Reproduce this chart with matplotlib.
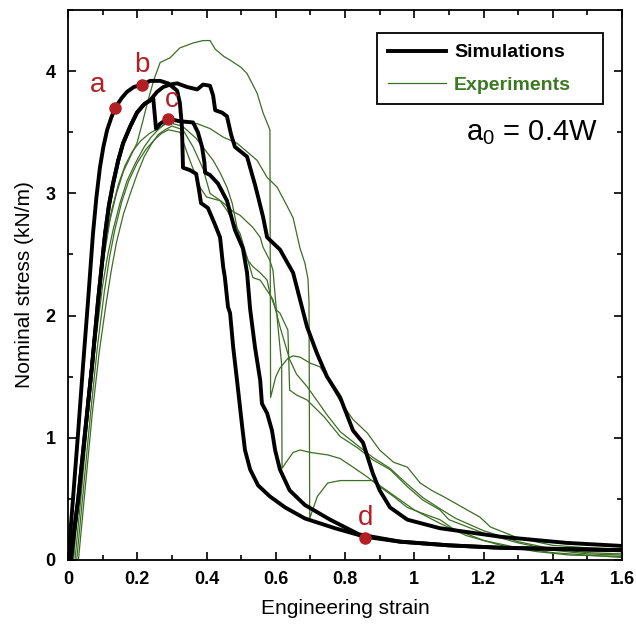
import numpy as np
import matplotlib
matplotlib.use("Agg")
import matplotlib.pyplot as plt
from matplotlib.lines import Line2D
from matplotlib.ticker import MultipleLocator, FormatStrFormatter

plt.rcParams['font.family'] = ['Liberation Sans', 'DejaVu Sans']
plt.rcParams['mathtext.default'] = 'regular'

# simulations (black)
sim1_x = [0, 0.006, 0.014, 0.029, 0.043, 0.058, 0.072, 0.082, 0.092, 0.102, 0.113, 0.125, 0.136,
          0.155, 0.17, 0.19, 0.214, 0.237, 0.266,
          0.289, 0.315, 0.323, 0.329, 0.332, 0.352, 0.37, 0.378, 0.384, 0.404, 0.425, 0.439, 0.448,
          0.453, 0.462, 0.468, 0.477, 0.488, 0.503, 0.511, 0.526, 0.549, 0.583, 0.627, 0.684, 0.771,
          0.858, 0.959, 1.10, 1.25, 1.42, 1.6]
sim1_y = [0, 0.2, 0.49, 1.04, 1.58, 2.13, 2.67, 2.97, 3.21, 3.38, 3.52, 3.62, 3.70,
          3.78, 3.83, 3.87, 3.89, 3.92, 3.92,
          3.90, 3.84, 3.74, 3.54, 3.21, 3.19, 3.16, 3.03, 2.92, 2.88, 2.74, 2.64, 2.40,
          2.31, 2.07, 2.02, 1.74, 1.47, 1.09, 0.90, 0.74, 0.61, 0.52, 0.43, 0.34, 0.26,
          0.19, 0.15, 0.12, 0.10, 0.09, 0.08]

sim2_x = [0.008, 0.018, 0.029, 0.049, 0.069, 0.087, 0.107, 0.118, 0.13, 0.145, 0.159, 0.18, 0.199,
          0.22, 0.237, 0.246, 0.254, 0.266,
          0.289, 0.323, 0.361, 0.375, 0.387, 0.394, 0.396, 0.41, 0.433, 0.459, 0.482, 0.505, 0.517,
          0.526, 0.54, 0.555, 0.56, 0.575, 0.589, 0.598, 0.612, 0.64, 0.684, 0.757, 0.84, 0.959,
          1.1, 1.25, 1.42, 1.6]
sim2_y = [0, 0.25, 0.49, 1.04, 1.58, 2.13, 2.67, 2.9, 3.08, 3.27, 3.41, 3.55, 3.66,
          3.73, 3.76, 3.78, 3.53, 3.57,
          3.61, 3.59, 3.58, 3.50, 3.38, 3.25, 3.17, 3.15, 3.08, 2.94, 2.70, 2.55, 2.35,
          2.05, 1.74, 1.47, 1.28, 1.20, 1.06, 0.90, 0.74, 0.57, 0.45, 0.33, 0.21, 0.15,
          0.12, 0.10, 0.09, 0.08]

sim3_x = [0.008, 0.018, 0.029, 0.049, 0.069, 0.087, 0.107, 0.118, 0.13, 0.145, 0.159, 0.18, 0.199,
          0.22, 0.237, 0.257, 0.275, 0.295, 0.315,
          0.344, 0.373, 0.39, 0.41, 0.419, 0.425, 0.445, 0.459, 0.471, 0.482, 0.517, 0.54, 0.549,
          0.563, 0.575, 0.612, 0.65, 0.67, 0.69, 0.719, 0.748, 0.786, 0.823, 0.852, 0.88, 0.90,
          0.93, 0.98, 1.074, 1.25, 1.44, 1.6]
sim3_y = [0, 0.25, 0.49, 1.04, 1.58, 2.13, 2.67, 2.9, 3.08, 3.27, 3.41, 3.55, 3.66,
          3.73, 3.76, 3.83, 3.87, 3.89, 3.90,
          3.87, 3.85, 3.89, 3.88, 3.80, 3.68, 3.66, 3.63, 3.48, 3.38, 3.30, 3.07, 2.97,
          2.81, 2.64, 2.54, 2.35, 2.13, 1.91, 1.69, 1.50, 1.33, 1.06, 0.96, 0.71, 0.57,
          0.43, 0.33, 0.26, 0.19, 0.14, 0.115]

# experiments (green)
exp1_x = [0.015, 0.025, 0.04, 0.055, 0.07, 0.09, 0.105, 0.121, 0.14, 0.16, 0.18, 0.199, 0.215, 0.23,
          0.248, 0.266, 0.295, 0.323, 0.361, 0.39, 0.41,
          0.425, 0.45, 0.468, 0.5, 0.517, 0.546, 0.563, 0.583, 0.585, 0.6, 0.612, 0.635, 0.65, 0.67,
          0.70, 0.728, 0.75, 0.786, 0.823, 0.864, 0.90, 0.94, 0.98, 1.017, 1.05, 1.09, 1.14, 1.19,
          1.22, 1.3, 1.4, 1.5, 1.6]
exp1_y = [0, 0.35, 0.8, 1.3, 1.7, 2.2, 2.5, 2.78, 3.0, 3.18, 3.3, 3.41, 3.58, 3.75,
          3.93, 4.07, 4.11, 4.19, 4.23, 4.25, 4.25,
          4.18, 4.12, 4.09, 4.03, 3.98, 3.82, 3.66, 3.52, 1.33, 1.5, 1.57, 1.65, 1.67, 1.66,
          1.61, 1.58, 1.48, 1.30, 1.15, 1.04, 0.90, 0.80, 0.76, 0.63, 0.57, 0.51, 0.43, 0.35,
          0.27, 0.18, 0.12, 0.10, 0.09]

exp2_x = [0.02, 0.03, 0.04, 0.06, 0.08, 0.10, 0.115, 0.13, 0.15, 0.17, 0.195, 0.22, 0.24, 0.26, 0.28,
          0.30, 0.33, 0.373, 0.41, 0.448,
          0.488, 0.517, 0.546, 0.575, 0.604, 0.632, 0.65, 0.67, 0.684, 0.693, 0.696, 0.698, 0.72,
          0.75, 0.786, 0.835, 0.88, 0.92, 0.96, 1.0, 1.04, 1.074, 1.15, 1.25, 1.35, 1.45, 1.6]
exp2_y = [0, 0.3, 0.6, 1.25, 1.8, 2.25, 2.5, 2.7, 2.92, 3.1, 3.25, 3.38, 3.46, 3.52, 3.57,
          3.6, 3.58, 3.57, 3.53, 3.46,
          3.41, 3.34, 3.27, 3.13, 3.05, 2.9, 2.8, 2.55, 2.43, 2.3, 2.1, 0.34, 0.52,
          0.63, 0.65, 0.65, 0.65, 0.57, 0.49, 0.41, 0.35, 0.30, 0.20, 0.12, 0.07, 0.04, 0.03]

exp3_x = [0.015, 0.025, 0.035, 0.055, 0.075, 0.095, 0.11, 0.125, 0.145, 0.165, 0.185, 0.21, 0.235,
          0.26, 0.29, 0.33, 0.37, 0.419, 0.439,
          0.459, 0.474, 0.488, 0.505, 0.52, 0.534, 0.555, 0.575, 0.583, 0.6, 0.612, 0.635, 0.64,
          0.66, 0.69, 0.74, 0.786, 0.835, 0.88, 0.93, 0.98, 1.025, 1.074, 1.10, 1.2, 1.3, 1.4,
          1.5, 1.6]
exp3_y = [0, 0.3, 0.6, 1.25, 1.85, 2.35, 2.62, 2.85, 3.07, 3.23, 3.34, 3.43, 3.49,
          3.53, 3.58, 3.55, 3.45, 3.27, 3.17,
          3.05, 2.92, 2.72, 2.56, 2.45, 2.40, 2.35, 2.29, 2.18, 2.05, 2.02, 1.88, 1.39,
          1.35, 1.31, 1.17, 1.01, 0.92, 0.82, 0.74, 0.60, 0.49, 0.41, 0.33, 0.22, 0.14, 0.08,
          0.05, 0.04]

exp4_x = [0.03, 0.04, 0.05, 0.07, 0.09, 0.11, 0.125, 0.14, 0.16, 0.18, 0.2, 0.22, 0.24, 0.26, 0.28,
          0.30, 0.332, 0.361, 0.39, 0.41,
          0.445, 0.477, 0.497, 0.534, 0.555, 0.563, 0.583, 0.592, 0.6, 0.61, 0.617, 0.618, 0.63,
          0.65, 0.67, 0.70, 0.75, 0.786, 0.823, 0.864, 0.90, 0.94, 0.98, 1.025, 1.074, 1.11,
          1.2, 1.3, 1.4, 1.5, 1.6]
exp4_y = [0, 0.3, 0.6, 1.2, 1.7, 2.1, 2.37, 2.6, 2.83, 3.0, 3.16, 3.3, 3.4, 3.48, 3.52,
          3.55, 3.52, 3.38, 3.2, 3.0,
          2.93, 2.85, 2.82, 2.72, 2.64, 2.56, 2.45, 2.37, 2.1, 1.8, 1.6, 0.75, 0.8,
          0.88, 0.9, 0.88, 0.86, 0.83, 0.76, 0.68, 0.60, 0.52, 0.43, 0.38, 0.33, 0.26,
          0.16, 0.10, 0.06, 0.04, 0.02]

exp5_x = [0.025, 0.035, 0.045, 0.065, 0.085, 0.105, 0.12, 0.135, 0.155, 0.175, 0.2, 0.225, 0.25,
          0.27, 0.29, 0.323, 0.344, 0.381,
          0.40, 0.439, 0.459, 0.497, 0.534, 0.555, 0.592, 0.612, 0.64, 0.66, 0.69, 0.72, 0.75,
          0.786, 0.835, 0.88, 0.93, 0.98, 1.025, 1.074, 1.12, 1.2, 1.3, 1.4, 1.5, 1.6]
exp5_y = [0, 0.3, 0.6, 1.2, 1.75, 2.2, 2.48, 2.7, 2.93, 3.1, 3.25, 3.36, 3.44,
          3.49, 3.52, 3.5, 3.33, 3.05,
          2.97, 2.94, 2.86, 2.67, 2.31, 2.29, 2.13, 1.91, 1.64, 1.52, 1.42, 1.3, 1.18,
          1.05, 0.94, 0.84, 0.75, 0.62, 0.51, 0.42, 0.34, 0.24, 0.15, 0.09, 0.06, 0.05]

# marked states
pt_labels = ['a', 'b', 'c', 'd']
pt_x = [0.136, 0.214, 0.289, 0.858]
pt_y = [3.70, 3.89, 3.61, 0.18]
lab_x = [0.084, 0.214, 0.30, 0.858]
lab_y = [3.89, 4.05, 3.76, 0.34]

green = '#3c6e24'
red = '#b21f24'

fig = plt.figure(figsize=(6.36, 6.25), dpi=100)
ax = fig.add_axes([0.107, 0.104, 0.871, 0.88])

exps = [(exp1_x, exp1_y), (exp2_x, exp2_y), (exp3_x, exp3_y), (exp4_x, exp4_y), (exp5_x, exp5_y)]
for ex, ey in exps:
    ax.plot(ex, ey, color=green, lw=0.9)

for sx, sy in [(sim1_x, sim1_y), (sim2_x, sim2_y), (sim3_x, sim3_y)]:
    ax.plot(sx, sy, color='black', lw=2.8, solid_joinstyle='round')

ax.plot(pt_x, pt_y, 'o', color=red, ms=8, zorder=5)
for t, lx, ly in zip(pt_labels, lab_x, lab_y):
    ax.text(lx, ly, t, color=red, fontsize=20, ha='center', va='center')

ax.text(1.53, 3.5, r'a$_0$ = 0.4W', fontsize=21, ha='right', va='center')

ax.set_xlim(0, 1.6)
ax.set_ylim(0, 4.5)
ax.xaxis.set_major_locator(MultipleLocator(0.2))
ax.xaxis.set_minor_locator(MultipleLocator(0.1))
ax.yaxis.set_major_locator(MultipleLocator(1))
ax.yaxis.set_minor_locator(MultipleLocator(0.5))
ax.xaxis.set_major_formatter(FormatStrFormatter('%g'))
ax.yaxis.set_major_formatter(FormatStrFormatter('%g'))
ax.tick_params(which='both', direction='in', top=True, right=True, width=1.2)
ax.tick_params(which='major', length=6, labelsize=13)
ax.tick_params(axis='x', which='major', pad=8)
ax.tick_params(axis='y', which='major', pad=9)
ax.tick_params(which='minor', length=3.5)
for lab in ax.get_xticklabels() + ax.get_yticklabels():
    lab.set_fontweight('bold')
for sp in ax.spines.values():
    sp.set_linewidth(1.3)

ax.set_xlabel('Engineering strain', fontsize=15, labelpad=8)
ax.set_ylabel('Nominal stress (kN/m)', fontsize=15, labelpad=8)

handles = [Line2D([], [], color='black', lw=2.8), Line2D([], [], color=green, lw=0.9)]
leg = ax.legend(handles, ['Simulations', 'Experiments'], loc='upper left',
                bbox_to_anchor=(0.558, 0.825, 0.408, 0.133), mode='expand', borderaxespad=0,
                fancybox=False, edgecolor='black',
                framealpha=1, handlelength=3.0, borderpad=0.55, labelspacing=0.75,
                handletextpad=0.4, prop={'weight': 'bold', 'size': 14})
leg.get_frame().set_linewidth(1.3)
leg.get_texts()[1].set_color('#3b7a22')

fig.savefig('out.png', dpi=100)
